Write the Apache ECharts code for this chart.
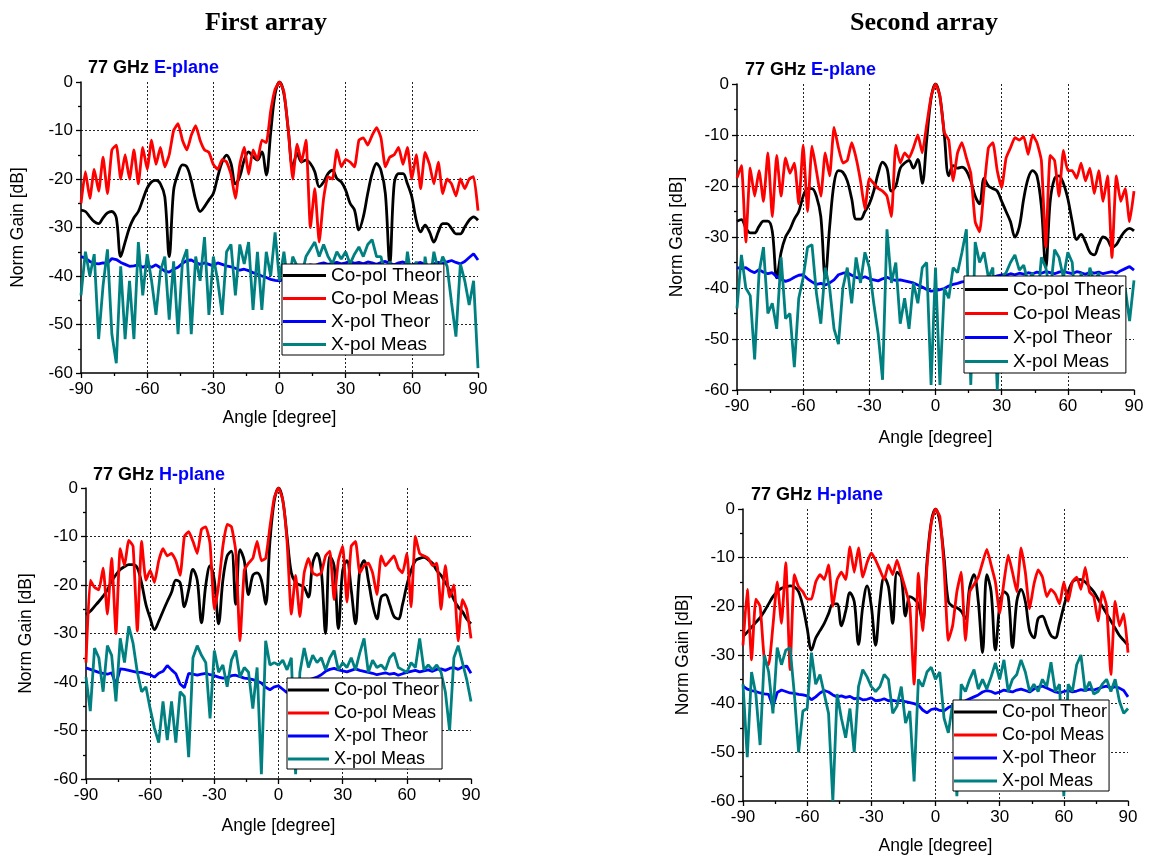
<!DOCTYPE html>
<html>
<head>
<meta charset="utf-8">
<script src="https://cdn.jsdelivr.net/npm/echarts@6/dist/echarts.min.js"></script>
<style>
  html, body { margin: 0; padding: 0; background: #fff; }
  #chart { width: 1149px; height: 859px; }
</style>
</head>
<body>
<div id="chart"></div>
<script>
// angle grid, 2 degree steps
const angles = [
  -90, -88, -86, -84, -82, -80, -78, -76, -74, -72,
  -70, -68, -66, -64, -62, -60, -58, -56, -54, -52,
  -50, -48, -46, -44, -42, -40, -38, -36, -34, -32,
  -30, -28, -26, -24, -22, -20, -18, -16, -14, -12,
  -10, -8, -6, -4, -2, 0, 2, 4, 6, 8,
  10, 12, 14, 16, 18, 20, 22, 24, 26, 28,
  30, 32, 34, 36, 38, 40, 42, 44, 46, 48,
  50, 52, 54, 56, 58, 60, 62, 64, 66, 68,
  70, 72, 74, 76, 78, 80, 82, 84, 86, 88,
  90
];

const xTicks = [-90, -60, -30, 0, 30, 60, 90];
const yTicks = [0, -10, -20, -30, -40, -50, -60];
const seriesNames = ['Co-pol Theor', 'Co-pol Meas', 'X-pol Theor', 'X-pol Meas'];

// ---- First array, E-plane ----
const a1eCoTheor = [
  -26.4, -26.7, -27.8, -28.8, -29.2, -28, -27, -26.7, -28, -36,
  -33, -30, -28, -26.7, -24.3, -21.9, -20.6, -20.3, -21, -23.7,
  -36, -22.3, -18.9, -17.1, -17.5, -20.3, -24.3, -26.7, -25.7, -24.3,
  -23, -19.5, -16.5, -15.1, -16.8, -21, -19.5, -16.1, -14.4, -15.4,
  -16.1, -14.4, -19.2, -10.5, -2.5, 0, -2.4, -10, -17.5, -14.7,
  -16.5, -16.1, -16.8, -18.5, -21.6, -20.6, -18.9, -18.2, -19.9, -20.6,
  -22.3, -25, -26.4, -30.5, -27.8, -23, -18.9, -16.8, -18.2, -23,
  -37.5, -21, -18.9, -18.9, -21, -23.7, -28.5, -30.9, -29.5, -30.9,
  -33, -30.9, -29.2, -29.2, -30.2, -31.3, -31.3, -29.9, -28.5, -27.8,
  -28.5
];
const a1eCoMeas = [
  -25, -18.5, -24, -18, -22.5, -15.5, -23, -14, -13, -20,
  -15, -20, -14, -21, -13.5, -18, -12, -17, -13.5, -17.5,
  -15, -10, -8.6, -12, -14, -11, -9, -12, -14, -14.5,
  -17, -18, -16, -16.5, -19, -24, -17, -13.5, -19, -14,
  -16, -12, -12.5, -6, -1.5, 0, -2, -10, -20, -12.8,
  -16.5, -12, -30, -22, -33, -24, -19.5, -20, -14, -17.5,
  -16, -16.5, -17.5, -12, -11.5, -13, -11, -9.4, -11.5, -17.5,
  -15.5, -15, -13.5, -17, -13.5, -20, -15, -22, -14.5, -17,
  -21, -16.5, -23, -20, -21, -23.5, -20, -22, -20, -19.5,
  -26.5
];
const a1eXTheor = [
  -36, -36.3, -37, -37.4, -37.5, -37.3, -37.4, -36.4, -36.6, -37.2,
  -37.6, -38, -37.9, -37.7, -38.2, -37.8, -38.2, -37.7, -38.3, -39,
  -39.2, -38.6, -38.2, -37.4, -36.8, -36.7, -37.2, -37.6, -37.3, -37.6,
  -37.9, -37.3, -37.6, -37.9, -38.1, -38.4, -38.8, -38.6, -38.9, -39.3,
  -39.6, -40, -40.3, -40.7, -40.9, -41, -40.6, -39.9, -39.2, -38.6,
  -38.3, -38, -37.7, -37.9, -37.5, -37.3, -37.6, -37.4, -37.2, -37.5,
  -37.3, -37, -37.4, -37.2, -37.5, -37.1, -37.3, -37.6, -37.2, -37,
  -37.4, -37.7, -37.3, -37.1, -37.5, -37.8, -37.4, -37.2, -37.6, -37.9,
  -37.5, -37.2, -37.4, -37.1, -36.8, -37.2, -37.5, -37, -36.2, -35.4,
  -36.7
];
const a1eXMeas = [
  -44, -35, -40, -35.5, -53, -42, -34.5, -52, -58, -38,
  -53, -41, -53, -33, -44, -35.5, -41, -48, -39, -36,
  -49, -37, -52, -37, -34.5, -52, -36, -41, -32, -48,
  -36, -41, -48, -35, -33.5, -44, -33.5, -37.5, -33, -47,
  -35, -47, -35, -40, -31, -41, -35, -42, -36, -38,
  -40, -36, -34.5, -33, -36, -33.5, -36, -37.5, -35, -36.5,
  -35, -37.5, -35.5, -34, -36, -33.5, -32.5, -36, -36, -40,
  -37, -45, -38, -44, -35, -41, -37, -48, -36, -42,
  -35, -39, -36, -38, -45.5, -52.5, -37.5, -41, -46, -41,
  -59
];

// ---- Second array, E-plane ----
const a2eCoTheor = [
  -26.9, -26.6, -28.2, -29.2, -29.2, -27.9, -26.9, -26.9, -28.9, -38,
  -33, -30, -28.5, -26.5, -25, -22, -20.5, -20.5, -22, -26,
  -38, -28, -19.5, -17, -17.3, -19, -22.5, -26.5, -26.5, -25,
  -23.5, -21, -17.5, -15.3, -16.5, -21, -20, -16.5, -15.5, -15,
  -16.5, -14.8, -19.5, -11, -2.8, 0, -2.5, -10, -18, -16,
  -16.5, -16.3, -17, -19, -22, -23.5, -18.5, -20, -20.5, -21,
  -23, -25, -27, -30, -28, -22.5, -18.5, -17, -18, -24,
  -36, -23, -18.5, -18, -19.5, -22.5, -27, -30.5, -29.5, -31,
  -33, -33.5, -31.5, -30, -30.5, -32, -31.5, -30, -28.8, -28.3,
  -28.8
];
const a2eCoMeas = [
  -18.4, -16, -31, -16.5, -22, -17, -23, -13.5, -26, -14,
  -22, -14.5, -17.5, -15.5, -23.5, -12, -25, -12.2, -17, -22,
  -13.5, -18, -8.5, -12.5, -15.5, -15, -11.5, -14.5, -19, -24.5,
  -18.5, -19.5, -20.5, -21, -22, -26, -12, -15.5, -13.5, -14.5,
  -12.5, -10, -13.5, -8, -2.5, 0, -2.3, -9.5, -11, -19,
  -13.5, -11.5, -14.5, -17.5, -27, -29, -20.5, -12.5, -11.5, -17,
  -20.3, -14.5, -12.5, -10.5, -11, -10.3, -13.8, -10, -11.5, -15,
  -32, -14, -15, -22, -13, -17, -17, -18.5, -15.5, -19,
  -16.5, -21.5, -17, -23, -18, -34, -18, -23, -20.5, -27,
  -21
];
const a2eXTheor = [
  -36, -36.2, -36, -36.6, -37, -36.4, -36.9, -37.2, -37, -37.8,
  -38.3, -38.7, -38.4, -37.9, -37.5, -37.4, -38.2, -38.8, -39.3, -39.1,
  -39.4, -39, -38.4, -37.4, -37.1, -37, -37.5, -37.9, -38.1, -37.8,
  -38.2, -38.4, -38.6, -38.2, -37.9, -38.3, -38.5, -38.4, -38.6, -38.8,
  -39, -39.4, -39.8, -40.3, -40.6, -40.5, -40.3, -40.1, -39.6, -39.3,
  -39.1, -38.8, -38.7, -38.5, -38.3, -38.4, -38, -37.8, -37.9, -37.6,
  -37.4, -37.5, -37.2, -37.4, -37.1, -37.3, -37, -37.2, -36.9, -37.1,
  -36.8, -37, -37.2, -36.9, -36.7, -37, -37.2, -36.8, -37, -37.3,
  -36.9, -37.1, -36.9, -37.2, -37, -36.8, -37.1, -36.6, -36.2, -35.8,
  -36.5
];
const a2eXMeas = [
  -44, -33.5, -40, -41.5, -54, -37, -32, -45, -43, -48,
  -34, -46, -45, -55.5, -42, -38, -32, -31.5, -41, -47,
  -36, -40, -48, -51, -40, -36, -43, -34, -39, -33,
  -36, -43, -49, -58, -28.5, -39, -35, -47, -42, -48,
  -39, -43, -36, -35, -59, -36, -59, -40, -42, -36,
  -37, -33, -28.5, -59, -31, -35, -33, -38, -36, -60,
  -38, -37, -35, -33.5, -36.5, -35.5, -39, -37, -44, -34,
  -36, -41, -32.5, -34, -38, -33, -35, -47, -37, -42,
  -36, -39, -37, -45, -38, -43, -37.5, -48, -40, -46.5,
  -38.5
];

// ---- First array, H-plane ----
const a1hCoTheor = [
  -26.1, -25.4, -24.4, -23.4, -22.3, -21, -19.2, -17.9, -16.8, -16.2,
  -15.8, -15.8, -16.5, -19.6, -24, -26.8, -29.2, -27.5, -25.4, -23.4,
  -21.5, -19, -19.5, -24.5, -21, -16.8, -19, -27.8, -20, -16,
  -19, -28, -19, -14, -13, -24, -12.7, -15, -22, -18,
  -17.5, -19, -24, -11, -2.7, 0, -2.5, -10, -17.5, -19.5,
  -20, -20.5, -22.5, -15.5, -13.5, -17, -30, -14, -16, -29,
  -17, -15, -21, -28, -17, -15, -19, -24, -27, -22.5,
  -22, -24, -26.5, -27, -24, -20, -17, -15, -14.5, -14.3,
  -14.8, -15.5, -17, -18, -19.5, -21, -23, -24.5, -25.5, -27,
  -28
];
const a1hCoMeas = [
  -36, -19, -20.5, -21, -16.5, -26, -14.5, -30, -12.5, -16,
  -10.8, -12, -29.5, -11, -19, -17, -19.5, -15, -12.5, -14,
  -13.5, -15, -18, -10, -9, -11, -13.5, -8.5, -8, -11.5,
  -25, -20, -12, -7.5, -8, -13, -31.5, -17, -15.5, -14.5,
  -11, -15, -14.5, -8, -2, 0, -2.5, -11, -26, -18,
  -26.5, -17.5, -14.5, -17.5, -18, -17.5, -14, -13, -23, -15,
  -12, -23.5, -12, -11, -17.5, -16, -15.5, -17.5, -22, -14,
  -16, -15, -14, -16.5, -17.5, -13.5, -24.5, -10, -13.5, -14,
  -14.5, -16, -15.5, -25, -16, -22.5, -20, -31.5, -23, -25,
  -31
];
const a1hXTheor = [
  -37.1, -37.4, -37.7, -38, -38.2, -38.4, -38.1, -40.5, -37.3, -37.4,
  -37.6, -37.8, -38, -38, -38.3, -38.5, -39, -38.2, -37.8, -36.6,
  -37.5, -38.3, -40.4, -41.2, -38.2, -38.4, -38.6, -38.4, -38.2, -38.5,
  -38.7, -39, -39.2, -39.1, -38.7, -38.6, -38.9, -39.2, -39.3, -39.5,
  -39.8, -40.2, -41.1, -41.6, -41, -40.8, -41.5, -42.2, -41.2, -40.6,
  -40.3, -39.9, -39.6, -39.3, -39, -38.5, -37.8, -37.4, -37.2, -37.5,
  -37.7, -37.9, -37.6, -37.3, -37.6, -37.8, -38, -38.2, -38.5, -38.3,
  -38.1, -38.4, -38.2, -38.6, -38.3, -38, -37.8, -37.6, -37.9, -37.7,
  -37.5, -37.8, -37.4, -37.3, -37.6, -37.2, -37, -37.4, -36.9, -36.7,
  -38.2
];
const a1hXMeas = [
  -39, -46, -33, -35, -42, -32.5, -34.5, -44, -31, -36,
  -28.5, -32, -38, -42, -41, -45.5, -49.5, -52.5, -44, -52,
  -44, -52.5, -42, -43, -55.5, -35, -32.5, -34.5, -36, -47.5,
  -33.5, -38, -36.5, -41, -35.5, -33.5, -39, -37, -38, -45.5,
  -37, -59, -31.5, -36.5, -36, -36.5, -35.5, -37.5, -35, -59,
  -38, -33, -37, -34.5, -36, -35, -37.5, -35, -33.5, -37.5,
  -36, -37, -35, -37.5, -34, -31, -38, -35.5, -37, -36.5,
  -37.5, -35, -34, -37, -37.5, -38, -36, -37, -31, -37.5,
  -36.5, -37.5, -36.5, -38, -42, -50, -35, -32.5, -36, -39.5,
  -44
];

// ---- Second array, H-plane ----
const a2hCoTheor = [
  -26.2, -25.3, -24.3, -23.3, -22.3, -21, -19.5, -18, -17, -16.3,
  -16, -15.8, -16, -17, -20, -24.5, -29, -26.5, -25, -23.5,
  -21.5, -19.5, -19.5, -24, -21, -17.2, -19, -27.8, -20, -15.8,
  -20, -28, -19, -14, -16, -23.5, -13, -14, -22, -18,
  -18.5, -19.5, -23.5, -11, -2.7, 0, -2.5, -10, -19, -20,
  -20.3, -21, -22.5, -16, -13.5, -19, -29.5, -13.5, -17, -29,
  -20, -17, -18, -28.5, -19, -16.5, -19, -25, -26.5, -22.5,
  -22, -24, -26, -26.5, -23.5, -20, -17, -15, -14.5, -14.5,
  -15, -16, -17, -18.5, -20, -21.5, -23, -24.5, -26, -27,
  -28
];
const a2hCoMeas = [
  -28, -16.5, -31, -18.5, -20, -31, -32, -24, -15, -23.5,
  -11, -33, -13.5, -16, -17, -18.5, -18.5, -15, -13.5, -14.5,
  -11.5, -20, -14.5, -13, -14.5, -7.8, -13, -8, -14, -11,
  -9, -10.5, -12.5, -14.5, -11.5, -13.5, -10.5, -13.5, -16.5, -20,
  -36, -13.2, -25, -12, -3, 0, -1.5, -12, -27, -24,
  -17, -13, -27, -17, -15.5, -14, -11, -8.3, -11.5, -15,
  -21.4, -15, -9.5, -13, -17, -8, -13, -20.5, -15.5, -12.5,
  -14, -18, -16.5, -17.5, -19.5, -15, -19, -15, -14, -16.5,
  -12, -17, -18, -23, -17, -20, -34, -19, -24, -21.5,
  -29.5
];
const a2hXTheor = [
  -36.4, -37, -37.3, -37.5, -37.8, -38, -38.1, -40.6, -37.7, -37.2,
  -37.5, -37.8, -37.9, -38.1, -38.2, -38.4, -39.2, -38.6, -37.8, -37.3,
  -37.6, -38.2, -38.6, -38.4, -38.7, -38.5, -39, -38.8, -39.2, -39.1,
  -38.8, -39.4, -39.3, -39, -39.4, -39.3, -39.5, -39.3, -39.6, -39.8,
  -40, -40.3, -41.3, -41.9, -41.2, -41, -41.4, -41.5, -40.8, -40.4,
  -40, -39.7, -39.4, -39, -38.6, -38.2, -37.6, -37.3, -37.5, -37.9,
  -37.6, -37.2, -37.4, -37.6, -37.2, -37, -37.3, -37.6, -37, -36.6,
  -36.4, -36.8, -37.2, -37.6, -37.8, -37.5, -37.3, -37.6, -37.4, -37.1,
  -37.3, -37, -37.2, -36.9, -36.6, -36.4, -36.8, -36.5, -36.8, -37.3,
  -38.6
];
const a2hXMeas = [
  -36, -51, -33.5, -38, -48.5, -30, -33.5, -42, -28.5, -32,
  -29, -28.5, -38, -50, -41.5, -41, -29.5, -36, -34, -38,
  -42, -60, -38, -43, -47, -41, -50, -36.5, -33, -34.5,
  -36.5, -37.5, -36.5, -34, -35, -42, -40.5, -36.5, -44, -41.5,
  -56, -35, -36.5, -33.5, -32.5, -35, -33.5, -43, -46, -40,
  -59, -36, -37.5, -35, -33, -37, -35, -37, -34.5, -31.6,
  -35, -31, -37.5, -35, -34, -31, -33.5, -37.5, -36, -37.5,
  -35, -36.5, -31.5, -37.5, -36, -59, -36, -37.5, -32, -30,
  -37.5, -35.5, -38, -37.5, -36, -35, -37.5, -35, -39.5, -42,
  -41
];

const FONT = 'Liberation Sans, Arial, Helvetica, sans-serif';
const colors = ['#000000', '#ff0000', '#0000ff', '#008080'];

// per-panel layout (pixels)
const panels = [
  { plane: 'E-plane', grid: { left: 81, top: 82, width: 397, height: 291 }, head: [88, 59],
    xGap: 36, yGap: 54,
    legend: { left: 282, top: 264, padding: [1, 2, 0, 1], fontSize: 19, lineHeight: 21, itemGap: 2, itemWidth: 43 },
    values: [a1eCoTheor, a1eCoMeas, a1eXTheor, a1eXMeas] },
  { plane: 'E-plane', grid: { left: 737, top: 84, width: 397, height: 306 }, head: [745, 61],
    xGap: 39, yGap: 51,
    legend: { left: 964, top: 276, padding: [3, 2, 1, 1], fontSize: 19, lineHeight: 21, itemGap: 3, itemWidth: 43 },
    values: [a2eCoTheor, a2eCoMeas, a2eXTheor, a2eXMeas] },
  { plane: 'H-plane', grid: { left: 86, top: 488, width: 385, height: 291 }, head: [93, 466],
    xGap: 38, yGap: 51,
    legend: { left: 287, top: 678, padding: [2, 3, 0, 1], fontSize: 18, lineHeight: 20, itemGap: 3, itemWidth: 41 },
    values: [a1hCoTheor, a1hCoMeas, a1hXTheor, a1hXMeas] },
  { plane: 'H-plane', grid: { left: 743, top: 509, width: 385, height: 292 }, head: [751, 486],
    xGap: 36, yGap: 51,
    legend: { left: 953, top: 700, padding: [2, 2, 0, 1], fontSize: 18, lineHeight: 20, itemGap: 3, itemWidth: 43 },
    values: [a2hCoTheor, a2hCoMeas, a2hXTheor, a2hXMeas] }
];

const pairs = (vals) => angles.map((a, i) => [a, vals[i]]);

const axisLine = { show: true, onZero: false, lineStyle: { color: '#000', width: 1.5 } };
const axisTick = { show: true, length: 5, lineStyle: { color: '#000', width: 1.3 } };
const minorTick = { show: true, splitNumber: 2, length: 3, lineStyle: { color: '#000', width: 1.3 } };
const splitLine = { show: true, showMinLine: false, showMaxLine: false,
  lineStyle: { color: '#222', width: 1, type: [2, 2] } };
const labelStyle = { fontFamily: FONT, fontSize: 17, color: '#000' };
const nameStyle = { fontFamily: FONT, fontSize: 17.5, color: '#000' };
const serif = 'Liberation Serif, Times New Roman, serif';

const option = {
  animation: false,
  backgroundColor: '#fff',
  textStyle: { fontFamily: FONT },
  title: [
    { text: 'First array', left: 205, top: 10, padding: 0,
      textStyle: { fontFamily: serif, fontWeight: 'bold', fontSize: 26, color: '#000' } },
    { text: 'Second array', left: 850, top: 10, padding: 0,
      textStyle: { fontFamily: serif, fontWeight: 'bold', fontSize: 26, color: '#000' } }
  ].concat(panels.map(p => ({
    text: '{k|77 GHz }{b|' + p.plane + '}', left: p.head[0], top: p.head[1], padding: 0,
    textStyle: {
      rich: {
        k: { fontFamily: FONT, fontWeight: 'bold', fontSize: 18, color: '#000' },
        b: { fontFamily: FONT, fontWeight: 'bold', fontSize: 18, color: '#0000ff' }
      }
    }
  }))),
  grid: panels.map(p => Object.assign({ containLabel: false }, p.grid)),
  xAxis: panels.map((p, i) => ({
    type: 'value', gridIndex: i, min: xTicks[0], max: xTicks[xTicks.length - 1], interval: 30,
    name: 'Angle [degree]', nameLocation: 'middle', nameGap: p.xGap, nameTextStyle: nameStyle,
    axisLine, axisTick, minorTick, splitLine,
    axisLabel: Object.assign({ margin: 8 }, labelStyle)
  })),
  yAxis: panels.map((p, i) => ({
    type: 'value', gridIndex: i, min: yTicks[yTicks.length - 1], max: yTicks[0], interval: 10,
    name: 'Norm Gain [dB]', nameLocation: 'middle', nameGap: p.yGap, nameTextStyle: nameStyle,
    axisLine, axisTick, minorTick, splitLine,
    axisLabel: Object.assign({ margin: 8 }, labelStyle)
  })),
  legend: panels.map(p => ({
    orient: 'vertical', left: p.legend.left, top: p.legend.top, padding: p.legend.padding,
    backgroundColor: '#fff', borderColor: '#000', borderWidth: 1, borderRadius: 0,
    icon: 'rect', itemWidth: p.legend.itemWidth, itemHeight: 3, itemGap: p.legend.itemGap,
    selectedMode: false, z: 10,
    textStyle: { fontFamily: FONT, fontSize: p.legend.fontSize, lineHeight: p.legend.lineHeight, color: '#000' },
    data: seriesNames
  })),
  series: []
};

panels.forEach((p, i) => {
  seriesNames.forEach((name, k) => {
    option.series.push({
      type: 'line', name, xAxisIndex: i, yAxisIndex: i,
      data: pairs(p.values[k]),
      color: colors[k],
      showSymbol: false, symbol: 'none',
      smooth: k === 0 ? 0.35 : (k === 1 ? 0.15 : false),
      lineStyle: { color: colors[k], width: 2.8 },
      silent: true, clip: true, z: 2 + k
    });
  });
});

const chart = echarts.init(document.getElementById('chart'));
chart.setOption(option);
window.addEventListener('resize', () => chart.resize());
</script>
</body>
</html>
